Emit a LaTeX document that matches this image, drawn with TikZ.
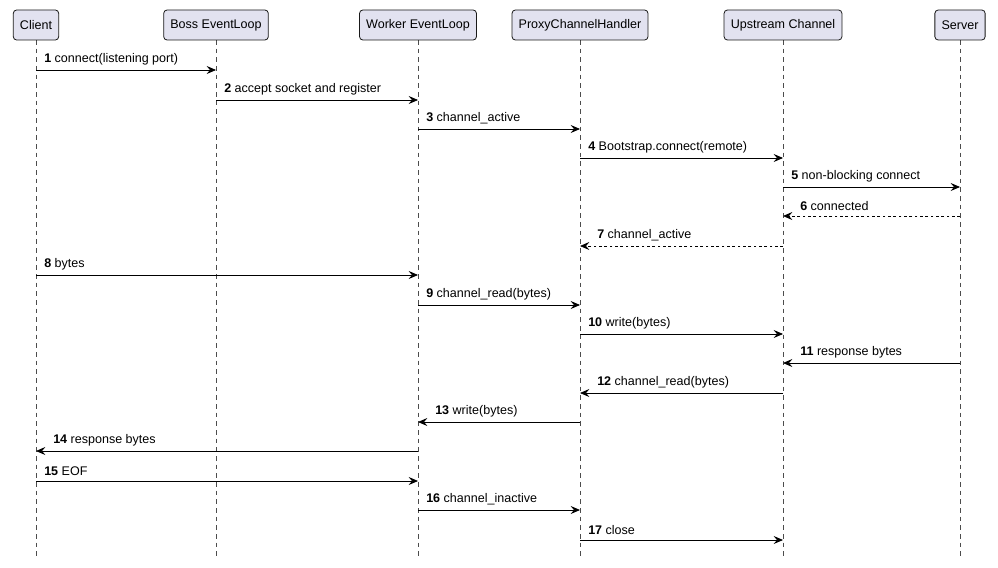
\documentclass[tikz,border=0pt]{standalone}
\usepackage{fontspec}
\setmainfont{Liberation Sans}
\usetikzlibrary{arrows.meta}
\begin{document}
\begin{tikzpicture}[x=0.75pt,y=-0.75pt,font=\fontsize{9.4pt}{11pt}\selectfont,
  part/.style={draw=black!90,fill={rgb,255:red,226;green,226;blue,240},rounded corners=2.5pt,line width=0.6pt,minimum height=30*0.75pt,inner xsep=5pt},
  life/.style={dash pattern=on 3.5pt off 3pt,line width=0.5pt,draw=black!70},
  msg/.style={line width=0.6pt,-{Stealth[length=7pt,width=6pt,inset=2.5pt]}},
  ret/.style={msg,dash pattern=on 2pt off 2pt}]
\useasboundingbox (0,0) rectangle (998,567);
\foreach \n/\x/\t in {cl/36/Client,bo/216/Boss EventLoop,wo/418/Worker EventLoop,pr/580/ProxyChannelHandler,up/783/Upstream Channel,se/960/Server}{
  \coordinate (\n b) at (\x,557);
  \draw[life] (\x,40) -- (\n b);
  \node[part] (\n) at (\x,25) {\t};
}
\foreach \i/\a/\b/\y/\s/\t in {
 1/36/216/70/msg/connect(listening port),
 2/216/418/100/msg/accept socket and register,
 3/418/580/129/msg/channel\_active,
 4/580/783/158/msg/Bootstrap.connect(remote),
 5/783/960/187/msg/non-blocking connect,
 6/960/783/216/ret/connected,
 7/783/580/246/ret/channel\_active,
 8/36/418/275/msg/bytes,
 9/418/580/305/msg/channel\_read(bytes),
 10/580/783/334/msg/write(bytes),
 11/960/783/363/msg/response bytes,
 12/783/580/393/msg/channel\_read(bytes),
 13/580/418/422/msg/write(bytes),
 14/418/36/451/msg/response bytes,
 15/36/418/481/msg/EOF / close,
 16/418/580/510/msg/channel\_inactive,
 17/580/783/540/msg/close}{
  \coordinate (s\i) at (\a,\y);
  \coordinate (e\i) at (\b,\y);
  \draw[\s] (s\i) -- (e\i);
  \pgfmathsetmacro{\lx}{\a<\b ? \a+8 : \b+17}
  \node[anchor=south west,inner sep=0pt] (l\i) at (\lx,\y-5) {\textbf{\i} \t};
}
\end{tikzpicture}
\end{document}
